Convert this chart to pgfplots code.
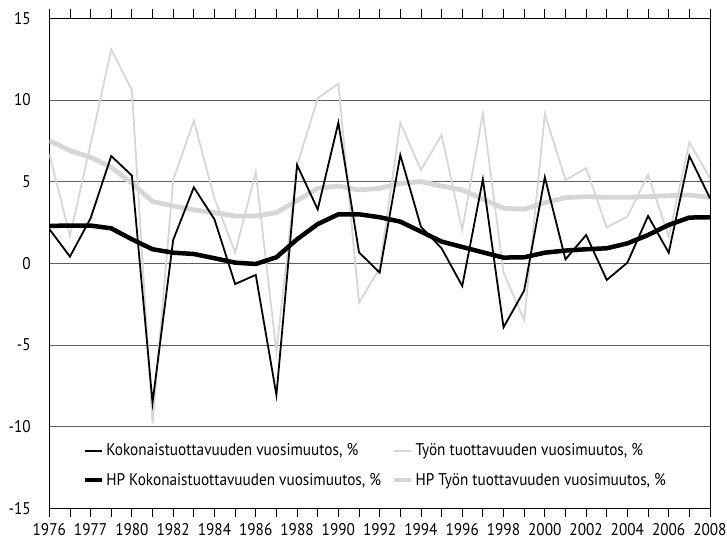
\documentclass[border=0pt]{standalone}
\usepackage{fontspec}
\setmainfont{PT Sans}[FakeStretch=0.9]
\usepackage{pgfplots}
\usepackage{pgfplotstable}
\pgfplotsset{compat=1.18}

\definecolor{lgray}{RGB}{214,214,214}
\definecolor{gridgray}{RGB}{95,95,95}

% year, Kokonaistuottavuus, Tyon tuottavuus, HP-suodatetut
\pgfplotstableread{
year K T HPK HPT
1976 2.10 6.70 2.29 7.51
1977 0.41 1.67 2.31 6.90
1978 2.76 7.30 2.31 6.49
1979 6.57 13.10 2.14 5.88
1980 5.37 10.60 1.47 4.90
1981 -8.53 -9.80 0.86 3.78
1982 1.43 5.10 0.65 3.51
1983 4.65 8.73 0.57 3.27
1984 2.69 3.98 0.31 3.10
1985 -1.27 0.67 0.04 2.90
1986 -0.71 5.57 -0.04 2.90
1987 -8.06 -5.41 0.37 3.10
1988 6.02 6.00 1.47 3.84
1989 3.30 10.10 2.40 4.59
1990 8.61 11.00 3.00 4.73
1991 0.67 -2.41 3.00 4.49
1992 -0.57 -0.30 2.82 4.59
1993 6.63 8.61 2.55 4.90
1994 2.24 5.71 1.94 5.00
1995 0.92 7.86 1.33 4.73
1996 -1.39 2.04 1.00 4.49
1997 5.14 9.18 0.67 3.92
1998 -3.92 -0.57 0.35 3.37
1999 -1.67 -3.47 0.37 3.31
2000 5.27 9.14 0.65 3.71
2001 0.24 5.10 0.78 4.02
2002 1.73 5.82 0.86 4.08
2003 -1.02 2.20 0.92 4.04
2004 0.04 2.86 1.22 4.04
2005 2.90 5.41 1.73 4.08
2006 0.65 1.63 2.35 4.14
2007 6.57 7.41 2.80 4.18
2008 3.98 5.20 2.82 4.04
}\data

\begin{document}
\begin{tikzpicture}
\path[use as bounding box] (-49.3bp,-35.7bp) rectangle (677.7bp,508.3bp);
\begin{axis}[
    at={(0,0)}, anchor=south west,
    scale only axis,
    width=660.7bp, height=490bp,
    xmin=1976, xmax=2008,
    ymin=-15, ymax=15,
    ytick={-15,-10,...,15},
    yticklabels={-15,-10,-5,0,5,10,15},
    xtick={1976,...,2008},
    xticklabels={1976,,1977,,1980,,1982,,1984,,1986,,1988,,1990,,1992,,1994,,1996,,1998,,2000,,2002,,2004,,2006,,2008},
    ymajorgrids,
    grid style={gridgray, line width=0.8bp},
    axis line style={black, line width=0.9bp},
    tick align=outside,
    xtick style={black, line width=0.8bp},
    ytick style={draw=none},
    major tick length=9bp,
    tick label style={font=\fontsize{17}{19}\selectfont},
    xticklabel style={yshift=-5bp, inner sep=1bp},
    yticklabel style={xshift=-6bp},
    legend columns=2,
    legend cell align=left,
    legend style={
        at={(0.046,0.14)}, anchor=north west,
        draw=none, fill=none,
        font=\fontsize{17}{19}\selectfont,
        row sep=12bp,
        /tikz/every even column/.append style={column sep=9bp},
    },
    legend image code/.code={\draw[#1] (0bp,0bp) -- (17bp,0bp);},
]
% legend entries first, in the reference's order
\addlegendimage{black, line width=1.8bp}
\addlegendentry{Kokonaistuottavuuden vuosimuutos, \%}
\addlegendimage{lgray, line width=1.8bp}
\addlegendentry{Työn tuottavuuden vuosimuutos, \%}
\addlegendimage{black, line width=4.5bp}
\addlegendentry{HP Kokonaistuottavuuden vuosimuutos, \%}
\addlegendimage{lgray, line width=4.5bp}
\addlegendentry{HP Työn tuottavuuden vuosimuutos, \%}

\addplot[lgray, line width=1.8bp, forget plot] table[x=year, y=T] {\data};
\addplot[lgray, line width=4.8bp, forget plot] table[x=year, y=HPT] {\data};
\addplot[black, line width=1.8bp, forget plot] table[x=year, y=K] {\data};
\addplot[black, line width=4.5bp, forget plot] table[x=year, y=HPK] {\data};
\end{axis}
\end{tikzpicture}
\end{document}
